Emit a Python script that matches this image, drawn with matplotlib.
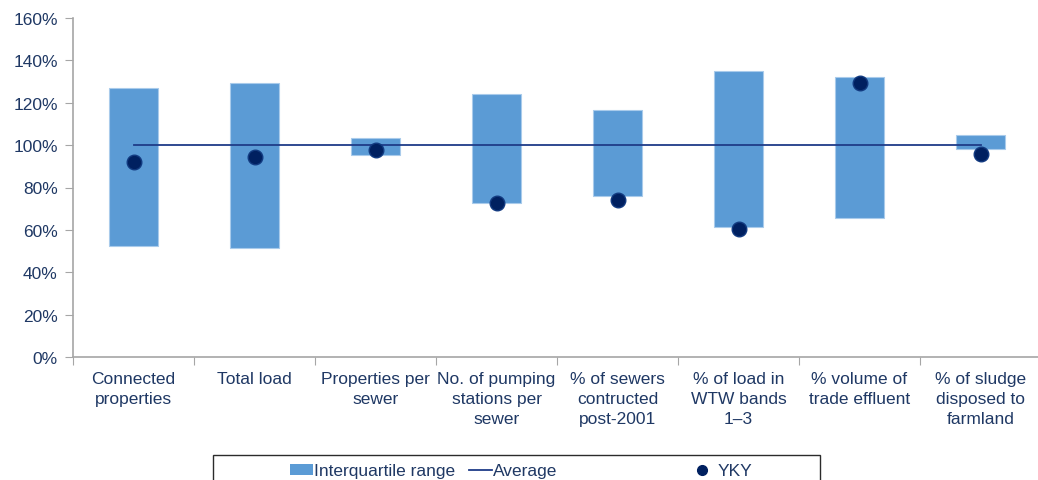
import matplotlib
matplotlib.use("Agg")
import matplotlib.pyplot as plt
from matplotlib.patches import Rectangle, Patch
from matplotlib.lines import Line2D
import numpy as np

plt.rcParams['font.family'] = ['Liberation Sans', 'DejaVu Sans']

categories = ["Connected\nproperties", "Total load", "Properties per\nsewer",
              "No. of pumping\nstations per\nsewer", "% of sewers\ncontructed\npost-2001",
              "% of load in\nWTW bands\n1\u20133", "% volume of\ntrade effluent",
              "% of sludge\ndisposed to\nfarmland"]
iqr_low = [52.5, 51.5, 95.5, 72.5, 76.0, 61.5, 65.5, 98.3]
iqr_high = [127.0, 129.5, 103.5, 124.0, 116.5, 135.0, 132.0, 105.0]
yky = [91.8, 94.5, 97.5, 72.8, 74.2, 60.3, 129.3, 95.8]
average = [100, 100, 100, 100, 100, 100, 100, 100]
yticks = [0, 20, 40, 60, 80, 100, 120, 140, 160]

TEXT = '#1F3864'
BAR = '#5B9BD5'
NAVY = '#002060'
LINE = '#1F3C88'

fig = plt.figure(figsize=(10.38, 4.81), dpi=100)
ax = fig.add_axes([73/1038, (481-358)/481, 968/1038, 339/481])

x = np.arange(len(categories))
heights = np.array(iqr_high) - np.array(iqr_low)
ax.bar(x, heights, bottom=iqr_low, width=0.41, color=BAR, edgecolor='#A9CBEB', linewidth=0.8, zorder=2)
ax.plot(x, average, color=LINE, linewidth=1.3, zorder=3)
ax.plot(x, yky, linestyle='none', marker='o', markersize=10.5, markerfacecolor=NAVY,
        markeredgecolor='#123A80', markeredgewidth=1, zorder=4)

ax.set_xlim(-0.5, len(categories) - 0.5)
ax.set_ylim(0, 160)
ax.set_yticks(yticks)
ax.set_yticklabels([f"{v}%" for v in yticks])
ax.set_xticks(np.arange(len(categories) + 1) - 0.5)
ax.set_xticklabels([])
ax.set_xticks(x, minor=True)
ax.set_xticklabels(categories, minor=True, linespacing=1.42)
ax.tick_params(axis='x', which='minor', length=0, pad=10, labelsize=12.5, labelcolor=TEXT)
ax.tick_params(axis='x', which='major', length=6, color='#A6A6A6', direction='out')
ax.tick_params(axis='y', length=6, color='#A6A6A6', labelsize=12.5, labelcolor=TEXT, pad=5)

for s in ['top', 'right']:
    ax.spines[s].set_visible(False)
for s in ['left', 'bottom']:
    ax.spines[s].set_color('#A6A6A6')
    ax.spines[s].set_linewidth(1.2)

# legend frame
fig.add_artist(Rectangle((213/1038, -0.05), 607/1038, 0.05 + (481-456)/481,
                         transform=fig.transFigure, fill=False, edgecolor='#2B2B2B', linewidth=1.0))

h1 = Patch(facecolor=BAR, edgecolor='none')
h2 = Line2D([], [], color=LINE, linewidth=1.3)
h3 = Line2D([], [], linestyle='none', marker='o', markersize=7, markerfacecolor=NAVY, markeredgecolor=NAVY)
ycen = (481-472)/481
for h, lab, xpos, hl in [(h1, 'Interquartile range', 290/1038, 1.3),
                         (h2, 'Average', 469/1038, 1.3),
                         (h3, 'YKY', 688/1038, 1.6)]:
    leg = fig.legend([h], [lab], loc='center left', bbox_to_anchor=(xpos, ycen), frameon=False,
                     fontsize=12.5, handlelength=hl, handletextpad=0.1, borderpad=0, borderaxespad=0,
                     handleheight=0.6)
    for t in leg.get_texts():
        t.set_color(TEXT)

fig.savefig('out.png', dpi=100)
